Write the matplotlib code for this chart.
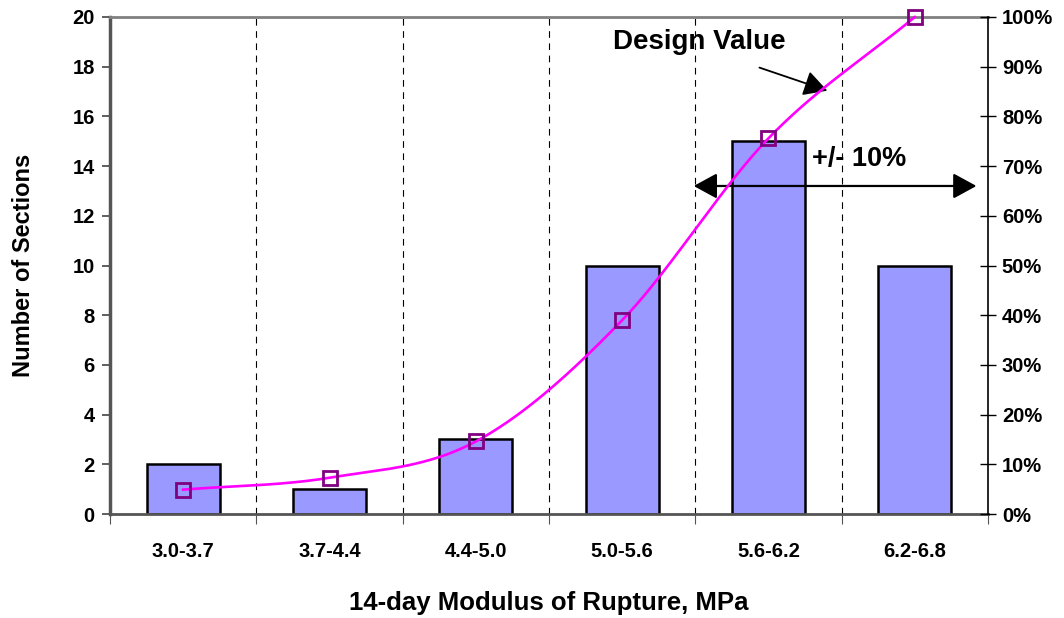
import matplotlib
matplotlib.use("Agg")
import matplotlib.pyplot as plt
import numpy as np

categories = ["3.0-3.7", "3.7-4.4", "4.4-5.0", "5.0-5.6", "5.6-6.2", "6.2-6.8"]
counts = [2, 1, 3, 10, 15, 10]
cumulative_pct = [4.9, 7.3, 14.6, 39.0, 75.6, 100.0]
left_ticks = [0, 2, 4, 6, 8, 10, 12, 14, 16, 18, 20]
right_ticks = [0, 10, 20, 30, 40, 50, 60, 70, 80, 90, 100]

plt.rcParams['font.family'] = ['Liberation Sans', 'DejaVu Sans']
plt.rcParams['font.weight'] = 'bold'

fig = plt.figure(figsize=(10.64, 6.18), dpi=100)
ax = fig.add_axes([110/1064, 104/618, 878/1064, 497/618])
x = np.arange(len(categories))

for b in np.arange(0.5, len(categories) - 0.5, 1.0):
    ax.axvline(b, color='black', lw=0.8, ls=(0, (6, 5)), zorder=1)

ax.bar(x, counts, width=0.5, color='#9999FF', edgecolor='black', linewidth=1.8, zorder=2)
ax.set_xlim(-0.5, len(categories) - 0.5)
ax.set_ylim(0, 20)
ax.set_yticks(left_ticks)
ax.set_yticklabels([str(t) for t in left_ticks], fontsize=14.5, fontweight='bold')
ax.set_xticks(np.arange(-0.5, len(categories), 1.0))
ax.set_xticklabels([])
ax.set_xticks(x, minor=True)
ax.set_xticklabels(categories, minor=True, fontsize=14.5, fontweight='bold')
ax.tick_params(axis='x', which='major', length=7, direction='out', color='#555555')
ax.tick_params(axis='x', which='minor', length=0, pad=20)
ax.tick_params(axis='y', length=6, direction='out', color='#444444', width=1.2, pad=5)

ax.spines['left'].set_linewidth(2.5)
ax.spines['left'].set_color('#555555')
ax.spines['top'].set_linewidth(2)
ax.spines['top'].set_color('#808080')
ax.spines['bottom'].set_linewidth(2)
ax.spines['bottom'].set_color('#555555')
ax.spines['right'].set_visible(False)

ax.set_ylabel("Number of Sections", fontsize=17, fontweight='bold', labelpad=27)
ax.set_xlabel("14-day Modulus of Rupture, MPa", fontsize=18.5, fontweight='bold', labelpad=22)

ax2 = ax.twinx()
ax2.set_ylim(0, 100)
ax2.set_yticks(right_ticks)
ax2.set_yticklabels([f"{t}%" for t in right_ticks], fontsize=14.5, fontweight='bold')
ax2.tick_params(axis='y', direction='inout', length=12, width=1, pad=4)
for s in ['left', 'top', 'bottom']:
    ax2.spines[s].set_visible(False)
ax2.spines['right'].set_linewidth(1.2)

# smooth curve (Catmull-Rom through data points, like a smoothed line)
px = x.astype(float)
py = np.array(cumulative_pct, dtype=float)
ext_x = np.concatenate([[2*px[0]-px[1]], px, [2*px[-1]-px[-2]]])
ext_y = np.concatenate([[2*py[0]-py[1]], py, [2*py[-1]-py[-2]]])
sx, sy = [], []
t = np.linspace(0, 1, 40)
for i in range(1, len(ext_x) - 2):
    for arr, out in ((ext_x, sx), (ext_y, sy)):
        p0, p1, p2, p3 = arr[i-1], arr[i], arr[i+1], arr[i+2]
        out.extend(0.5*((2*p1) + (-p0+p2)*t + (2*p0-5*p1+4*p2-p3)*t**2 + (-p0+3*p1-3*p2+p3)*t**3))
ax2.plot(sx, sy, color='#FF00FF', lw=1.9, zorder=3, clip_on=False)
ax2.plot(px, py, ls='none', marker='s', markersize=10, markerfacecolor='none',
         markeredgecolor='#800080', markeredgewidth=2, zorder=4, clip_on=False)

# annotations
ax.text(3.53, 19.0, "Design Value", fontsize=20, fontweight='bold', ha='center', va='center')
ax.annotate("", xy=(4.42, 17.0), xytext=(3.92, 18.0),
            arrowprops=dict(arrowstyle='-|>,head_length=0.55,head_width=0.3', color='black',
                            lw=1.3, mutation_scale=26))
ax.text(4.3, 14.3, "+/- 10%", fontsize=19.5, fontweight='bold', ha='left', va='center')
ax.annotate("", xy=(3.47, 13.2), xytext=(5.44, 13.2),
            arrowprops=dict(arrowstyle='<|-|>,head_length=0.55,head_width=0.3', color='black',
                            lw=1.6, mutation_scale=26),
            annotation_clip=False)

fig.savefig("out.png", dpi=100)
